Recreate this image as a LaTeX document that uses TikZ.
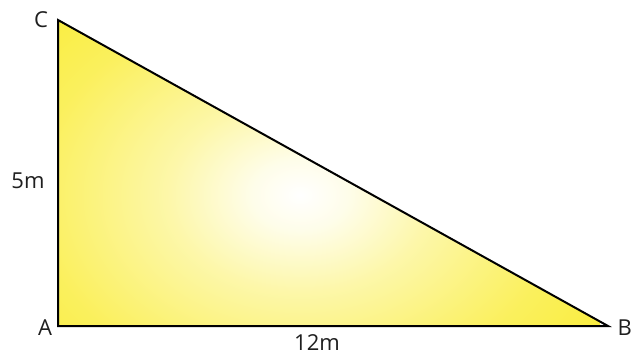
\documentclass[tikz,border=0pt]{standalone}
\usepackage{fontspec}
\setmainfont{Open Sans}
\usepackage{xcolor}
\usetikzlibrary{calc}
\definecolor{triyel}{RGB}{249,235,40}
\pgfdeclareradialshading{glow}{\pgfpoint{0bp}{0bp}}{%
  color(0bp)=(white); color(4bp)=(white!90!triyel); color(11bp)=(triyel!40!white);
  color(22bp)=(triyel!75!white); color(35bp)=(triyel); color(50bp)=(triyel)}
\tikzset{
    edge/.style={draw=black, line width=2pt, line join=miter},
    vlab/.style={font=\fontsize{22}{22}\selectfont, text=black!88, inner sep=0pt},
}
\begin{document}
\begin{tikzpicture}[x=1pt, y=-1pt]
    \useasboundingbox (0,0) rectangle (633,356);
    \coordinate (A) at (58,326);
    \coordinate (B) at (608,326);
    \coordinate (C) at (58,20);
    % filled triangle
    \begin{scope}
        \clip (A) -- (B) -- (C) -- cycle;
        \shade[shading=glow] (0,-25) rectangle (600,415);
    \end{scope}
    \draw[edge] (A) -- (B) -- (C) -- cycle;
    % vertex and side labels
    \node[vlab] (labC) at (41,20) {C};
    \node[vlab] (labA) at (45,328) {A};
    \node[vlab, anchor=east] (labB) at (632,328) {B};
    \node[vlab] (labAC) at (28,181) {5m};
    \node[vlab] (labAB) at (317,343) {12m};
\end{tikzpicture}
\end{document}
